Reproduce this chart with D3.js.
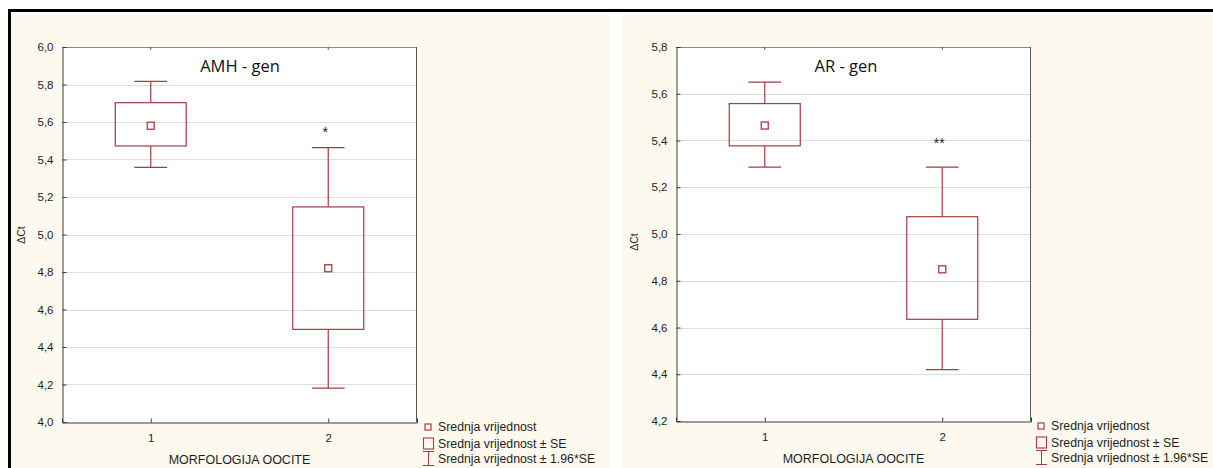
<!DOCTYPE html>
<html>
<head>
<meta charset="utf-8">
<script src="https://cdn.jsdelivr.net/npm/d3@7"></script>
<style>
  html, body { margin: 0; padding: 0; background: #ffffff; }
  svg { display: block; }
</style>
</head>
<body>
<svg id="chart" width="1213" height="468"></svg>
<script>
// ---- data ----
const categories = ["1", "2"];

const amhMean = [5.58, 4.82];
const amhSeLow = [5.472, 4.494];
const amhSeHigh = [5.703, 5.147];
const amhCiLow = [5.358, 4.181];
const amhCiHigh = [5.817, 5.463];
const amhTicks = [4.0, 4.2, 4.4, 4.6, 4.8, 5.0, 5.2, 5.4, 5.6, 5.8, 6.0];
const amhSignif = ["", "*"];

const arMean = [5.464, 4.849];
const arSeLow = [5.377, 4.635];
const arSeHigh = [5.558, 5.074];
const arCiLow = [5.286, 4.42];
const arCiHigh = [5.65, 5.286];
const arTicks = [4.2, 4.4, 4.6, 4.8, 5.0, 5.2, 5.4, 5.6, 5.8];
const arSignif = ["", "**"];

const legendLabels = ["Srednja vrijednost", "Srednja vrijednost ± SE", "Srednja vrijednost ± 1.96*SE"];
const xAxisTitle = "MORFOLOGIJA OOCITE";
const yAxisTitle = "ΔCt";

// ---- styles ----
const cream = "#fef9ee";
const boxColor = "#a33d40";
const gridColor = "#dddddd";
const axisColor = "#3c3c3c";
const textColor = "#1e1e1e";
const fontArial = "'Liberation Sans', Arial, sans-serif";
const fontTitle = "'Open Sans', 'Noto Sans', sans-serif";

const svg = d3.select("#chart");

// frame and panel backgrounds
svg.append("rect").attr("x", 11).attr("y", 14).attr("width", 598).attr("height", 454).attr("fill", cream);
svg.append("rect").attr("x", 623).attr("y", 14).attr("width", 590).attr("height", 454).attr("fill", cream);
svg.append("rect").attr("x", 8).attr("y", 9).attr("width", 1205).attr("height", 3).attr("fill", "#000");
svg.append("rect").attr("x", 8).attr("y", 9).attr("width", 3).attr("height", 459).attr("fill", "#000");

function drawPanel(cfg) {
  const g = svg.append("g").attr("transform", `translate(${cfg.left},${cfg.top})`);
  const w = cfg.width, h = cfg.height;

  const x = d3.scalePoint().domain(categories).range([0, w]).padding(0.5);
  const y = d3.scaleLinear().domain([cfg.ticks[0], cfg.ticks[cfg.ticks.length - 1]]).range([h, 0]);

  // plot area
  g.append("rect").attr("width", w).attr("height", h).attr("fill", "#fff");

  // grid
  g.append("g").selectAll("line").data(cfg.ticks.slice(1, -1)).join("line")
    .attr("x1", 0).attr("x2", w)
    .attr("y1", d => Math.round(y(d)) + 0.5).attr("y2", d => Math.round(y(d)) + 0.5)
    .attr("stroke", gridColor).attr("stroke-width", 1);

  // frame: top & right lighter
  g.append("line").attr("x1", 0).attr("x2", w).attr("y1", 0.5).attr("y2", 0.5).attr("stroke", "#8a8a8a");
  g.append("line").attr("x1", w - 0.5).attr("x2", w - 0.5).attr("y1", 0).attr("y2", h).attr("stroke", "#555");

  // y axis
  const yAxis = d3.axisLeft(y).tickValues(cfg.ticks).tickSize(-4).tickPadding(9)
    .tickFormat(d => d3.format(".1f")(d).replace(".", ","));
  const ya = g.append("g").attr("transform", "translate(0.5,0)").call(yAxis);
  ya.select(".domain").attr("stroke", axisColor);
  ya.selectAll(".tick line").attr("stroke", axisColor);
  ya.selectAll("text").attr("fill", textColor).style("font-family", fontArial).style("font-size", "11.5px");

  // x axis
  const xAxis = d3.axisBottom(x).tickSize(-4).tickPadding(11);
  const xa = g.append("g").attr("transform", `translate(0,${h + 0.5})`).call(xAxis);
  xa.select(".domain").attr("stroke", axisColor);
  xa.selectAll(".tick line").attr("stroke", axisColor);
  xa.selectAll("text").attr("fill", textColor).style("font-family", fontArial).style("font-size", "11.5px");

  // top small ticks
  g.append("g").selectAll("line").data(categories).join("line")
    .attr("x1", d => x(d)).attr("x2", d => x(d)).attr("y1", 0).attr("y2", 3)
    .attr("stroke", "#555");

  const boxW = w * 0.2;
  const capW = w * 0.092;
  const idx = categories.map((c, i) => i);

  const marks = g.append("g").attr("stroke", boxColor).attr("fill", "none").attr("stroke-width", 1.2);
  // whiskers
  marks.selectAll(".wh").data(idx).join("line").attr("class", "wh")
    .attr("x1", i => x(categories[i])).attr("x2", i => x(categories[i]))
    .attr("y1", i => y(cfg.seHigh[i])).attr("y2", i => y(cfg.ciHigh[i]));
  marks.selectAll(".wl").data(idx).join("line").attr("class", "wl")
    .attr("x1", i => x(categories[i])).attr("x2", i => x(categories[i]))
    .attr("y1", i => y(cfg.seLow[i])).attr("y2", i => y(cfg.ciLow[i]));
  marks.selectAll(".ch").data(idx).join("line").attr("class", "ch")
    .attr("x1", i => x(categories[i]) - capW / 2).attr("x2", i => x(categories[i]) + capW / 2)
    .attr("y1", i => y(cfg.ciHigh[i])).attr("y2", i => y(cfg.ciHigh[i]));
  marks.selectAll(".cl").data(idx).join("line").attr("class", "cl")
    .attr("x1", i => x(categories[i]) - capW / 2).attr("x2", i => x(categories[i]) + capW / 2)
    .attr("y1", i => y(cfg.ciLow[i])).attr("y2", i => y(cfg.ciLow[i]));
  // boxes
  marks.selectAll(".box").data(idx).join("rect").attr("class", "box")
    .attr("x", i => x(categories[i]) - boxW / 2).attr("width", boxW)
    .attr("y", i => y(cfg.seHigh[i])).attr("height", i => y(cfg.seLow[i]) - y(cfg.seHigh[i]));
  // mean markers
  marks.selectAll(".mean").data(idx).join("rect").attr("class", "mean")
    .attr("x", i => x(categories[i]) - 3.5).attr("y", i => y(cfg.mean[i]) - 3.5)
    .attr("width", 7).attr("height", 7).attr("stroke-width", 1.3);

  // significance asterisks
  g.append("g").selectAll("text").data(idx.filter(i => cfg.signif[i])).join("text")
    .attr("x", i => x(categories[i]) - 3).attr("y", i => y(cfg.ciHigh[i]) - cfg.signifGap)
    .attr("text-anchor", "middle").attr("fill", textColor)
    .style("font-family", fontArial).style("font-size", "14px")
    .text(i => cfg.signif[i]);

  // title
  g.append("text").attr("x", cfg.titleX).attr("y", 25).attr("text-anchor", "middle")
    .attr("fill", "#111").style("font-family", fontTitle).style("font-size", "16.5px")
    .text(cfg.title);

  // axis titles
  g.append("text").attr("transform", `translate(${cfg.yTitleX},${cfg.yTitleY}) rotate(-90)`)
    .attr("text-anchor", "middle").attr("fill", textColor)
    .style("font-family", fontArial).style("font-size", "10.5px").text(yAxisTitle);
  g.append("text").attr("x", w / 2 + cfg.xTitleDx).attr("y", h + 42).attr("text-anchor", "middle")
    .attr("fill", textColor).style("font-family", fontArial).style("font-size", "12.5px").text(xAxisTitle);

  // legend
  const lg = svg.append("g").attr("transform", `translate(${cfg.legendX},${cfg.legendY})`);
  const rowY = [0, 16.5, 31.5];
  lg.append("rect").attr("x", 2).attr("y", rowY[0] - 3).attr("width", 6).attr("height", 6)
    .attr("fill", "none").attr("stroke", boxColor).attr("stroke-width", 1.2);
  lg.append("rect").attr("x", 0.5).attr("y", rowY[1] - 5.5).attr("width", 10).attr("height", 11)
    .attr("fill", "none").attr("stroke", boxColor).attr("stroke-width", 1.1);
  lg.append("line").attr("x1", 5.5).attr("x2", 5.5).attr("y1", rowY[2] - 7).attr("y2", rowY[2] + 7).attr("stroke", boxColor);
  lg.append("line").attr("x1", 0).attr("x2", 11).attr("y1", rowY[2] - 7).attr("y2", rowY[2] - 7).attr("stroke", boxColor);
  lg.append("line").attr("x1", 0).attr("x2", 11).attr("y1", rowY[2] + 7).attr("y2", rowY[2] + 7).attr("stroke", boxColor);
  lg.selectAll("text").data(legendLabels).join("text")
    .attr("x", 15).attr("y", (d, i) => rowY[i] + 4.2)
    .attr("fill", textColor).style("font-family", fontArial).style("font-size", "12.3px")
    .text(d => d);
}

drawPanel({
  left: 62, top: 47, width: 355, height: 375,
  ticks: amhTicks, mean: amhMean, seLow: amhSeLow, seHigh: amhSeHigh,
  ciLow: amhCiLow, ciHigh: amhCiHigh, signif: amhSignif, signifGap: 11,
  title: "AMH - gen", titleX: 178,
  yTitleX: -37, yTitleY: 188, xTitleDx: 0,
  legendX: 423, legendY: 427
});

drawPanel({
  left: 676, top: 47, width: 355, height: 374,
  ticks: arTicks, mean: arMean, seLow: arSeLow, seHigh: arSeHigh,
  ciLow: arCiLow, ciHigh: arCiHigh, signif: arSignif, signifGap: 19,
  title: "AR - gen", titleX: 170,
  yTitleX: -38, yTitleY: 195, xTitleDx: 0,
  legendX: 1036, legendY: 426
});
</script>
</body>
</html>
